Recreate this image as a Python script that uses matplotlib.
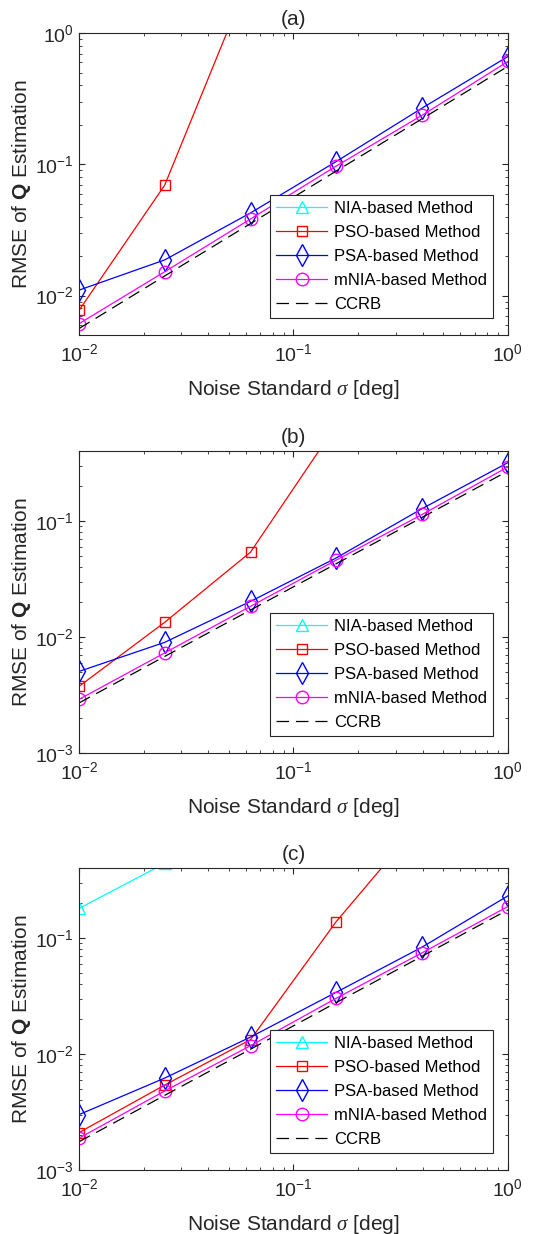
import matplotlib
matplotlib.use("Agg")
import matplotlib.pyplot as plt
import numpy as np

plt.rcParams.update({
    "font.family": ["Liberation Sans", "DejaVu Sans"],
    "font.size": 12,
    "mathtext.fontset": "custom",
    "mathtext.rm": "Liberation Sans",
    "mathtext.it": "Liberation Serif:italic",
    "mathtext.bf": "Liberation Sans:bold",
    "axes.edgecolor": "#262626",
    "axes.linewidth": 0.8,
    "xtick.color": "#262626",
    "ytick.color": "#262626",
    "lines.scale_dashes": False,
})

# noise standard deviation [deg]
sigma = [0.01, 0.0251, 0.0631, 0.158, 0.398, 1.0]

# panel (a)
nia_a = [2.0, 3.5, 6.0, 9.0, 14.0, 20.0]
pso_a = [0.0077, 0.0695, 2.8, 8.0, 20.0, 40.0]
psa_a = [0.011, 0.0187, 0.0427, 0.105, 0.269, 0.665]
mnia_a = [0.0061, 0.0152, 0.0384, 0.097, 0.237, 0.61]
ccrb_a = [0.0056, 0.0141, 0.0354, 0.0889, 0.223, 0.56]

# panel (b)
nia_b = [1.0, 2.0, 3.5, 6.0, 9.0, 14.0]
pso_b = [0.00375, 0.0134, 0.054, 0.667, 4.0, 15.0]
psa_b = [0.00505, 0.009, 0.0203, 0.048, 0.128, 0.319]
mnia_b = [0.0029, 0.0073, 0.0184, 0.046, 0.114, 0.293]
ccrb_b = [0.0027, 0.0068, 0.0171, 0.0428, 0.1075, 0.27]

# panel (c)
nia_c = [0.18, 0.44, 1.0, 2.2, 4.5, 9.0]
pso_c = [0.0021, 0.0054, 0.0133, 0.138, 1.04, 6.0]
psa_c = [0.003, 0.0062, 0.014, 0.034, 0.0835, 0.231]
mnia_c = [0.00188, 0.0048, 0.0118, 0.0302, 0.0746, 0.187]
ccrb_c = [0.00175, 0.0044, 0.011, 0.0277, 0.0697, 0.175]

panels = [
    ("(a)", nia_a, pso_a, psa_a, mnia_a, ccrb_a, (0.005, 1.0)),
    ("(b)", nia_b, pso_b, psa_b, mnia_b, ccrb_b, (1e-3, 0.4)),
    ("(c)", nia_c, pso_c, psa_c, mnia_c, ccrb_c, (1e-3, 0.4)),
]
bottoms = [0.7285, 0.3898, 0.0519]

fig = plt.figure(figsize=(5.57, 12.34), dpi=100)

for (title, nia, pso, psa, mnia, ccrb, ylim), b in zip(panels, bottoms):
    ax = fig.add_axes([0.1418, b, 0.770, 0.2445])
    ax.plot(sigma, nia, color="cyan", lw=0.9, marker="^", ms=9, mfc="none",
            mew=1.0, label="NIA-based Method")
    ax.plot(sigma, pso, color="red", lw=0.9, marker="s", ms=6.5, mfc="none",
            mew=1.0, label="PSO-based Method")
    ax.plot(sigma, psa, color="blue", lw=0.9, marker="d", ms=11, mfc="none",
            mew=1.0, label="PSA-based Method")
    ax.plot(sigma, mnia, color="magenta", lw=0.9, marker="o", ms=9, mfc="none",
            mew=1.0, label="mNIA-based Method")
    ax.plot(sigma, ccrb, color="black", lw=0.9, dashes=(9, 5), label="CCRB")
    ax.set_xscale("log")
    ax.set_yscale("log")
    ax.set_xlim(0.01, 1)
    ax.set_ylim(*ylim)
    ax.tick_params(which="both", direction="in", top=True, right=True,
                   labelsize=14)
    ax.tick_params(which="major", length=4, width=0.8)
    ax.tick_params(axis="x", which="major", pad=6)
    ax.tick_params(which="minor", length=2.2, width=0.6)
    ax.set_title(title, fontsize=15, pad=6, color="#262626")
    ax.set_xlabel(r"Noise Standard $\it{\sigma}$ [deg]", fontsize=15,
                  labelpad=9.5, color="#262626")
    ax.set_ylabel(r"RMSE of $\mathbf{Q}$ Estimation", fontsize=15,
                  labelpad=2, color="#262626")
    leg = ax.legend(loc="lower right", bbox_to_anchor=(0.965, 0.056),
                    fontsize=12, fancybox=False, edgecolor="#262626",
                    framealpha=1, handlelength=3.1, labelspacing=0.55,
                    borderpad=0.35, handletextpad=0.4, borderaxespad=0)
    leg.get_frame().set_linewidth(0.8)

fig.savefig("out.png", dpi=100)
